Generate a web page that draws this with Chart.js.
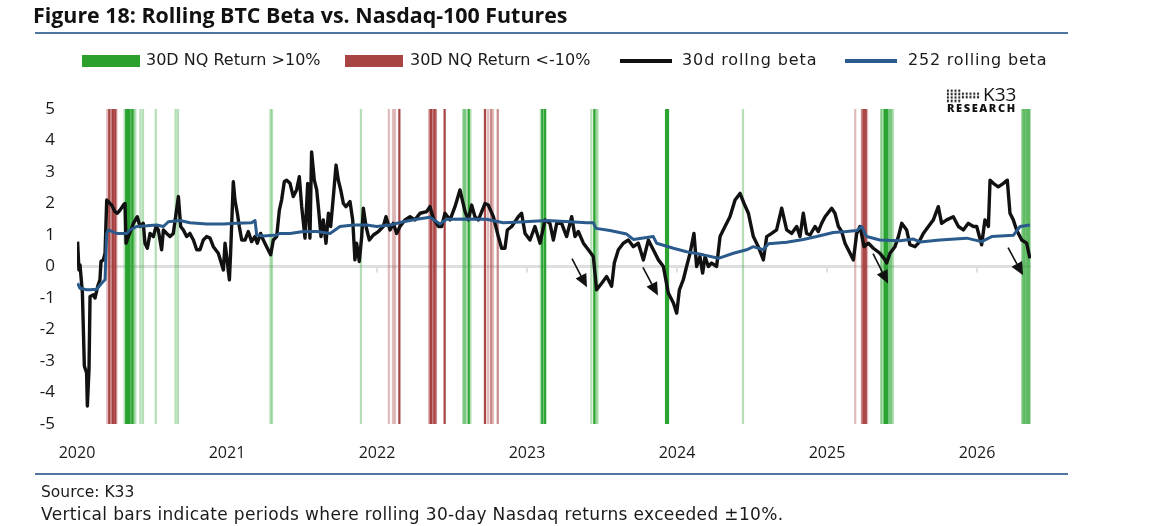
<!DOCTYPE html>
<html>
<head>
<meta charset="utf-8">
<script src="https://cdn.jsdelivr.net/npm/chart.js@4.4.1/dist/chart.umd.min.js"></script>
<style>
  html,body{margin:0;padding:0;background:#fff;}
  #wrap{position:relative;width:1162px;height:526px;overflow:hidden;font-family:"DejaVu Sans",sans-serif;color:#1a1a1a;}
  #c{position:absolute;left:0;top:0;}
  .abs{position:absolute;white-space:nowrap;}
  .title{left:33px;top:1px;font-family:"Open Sans",sans-serif;font-size:21.4px;font-weight:700;line-height:28px;color:#111;}
  .rule{position:absolute;left:35px;width:1033px;height:2px;background:#4f75a0;}
  .lt{font-size:16px;line-height:20px;top:50px;}
  .sw{position:absolute;}
  .foot{left:41px;font-size:16px;line-height:20px;}
  .k33{left:983px;top:84px;font-size:19px;line-height:20px;color:#111;font-family:"Open Sans",sans-serif;}
  .res{left:947px;top:101px;font-size:11px;font-weight:800;line-height:13px;letter-spacing:1.6px;color:#111;font-family:"Open Sans",sans-serif;}
  .dots{position:absolute;background-image:radial-gradient(circle,#222 1.1px,transparent 1.5px);background-size:3.8px 3.4px;}
</style>
</head>
<body>
<div id="wrap">
  <canvas id="c" width="1162" height="526"></canvas>
  <div class="abs title">Figure 18: Rolling BTC Beta vs. Nasdaq-100 Futures</div>
  <div class="rule" style="top:32px"></div>

  <div class="sw" style="left:82px;top:55px;width:58px;height:12px;background:#2ca02c"></div>
  <div class="abs lt" style="left:146px">30D NQ Return &gt;10%</div>
  <div class="sw" style="left:345px;top:55px;width:58px;height:12px;background:#a84442"></div>
  <div class="abs lt" style="left:410px">30D NQ Return &lt;-10%</div>
  <div class="sw" style="left:620px;top:59px;width:52px;height:3.5px;background:#111"></div>
  <div class="abs lt" style="left:682px;letter-spacing:0.9px">30d rollng beta</div>
  <div class="sw" style="left:845px;top:59px;width:52px;height:3.5px;background:#2a5b8c"></div>
  <div class="abs lt" style="left:908px;letter-spacing:0.8px">252 rolling beta</div>

  <div class="dots" style="left:946px;top:89px;width:15px;height:14px"></div>
  <div class="dots" style="left:961px;top:92px;width:19px;height:7px"></div>
  <div class="abs k33">K33</div>
  <div class="abs res">RESEARCH</div>

  <div class="rule" style="top:473px"></div>
  <div class="abs foot" style="top:482px;font-size:15.5px">Source: K33</div>
  <div class="abs foot" style="top:504px;font-size:17px;letter-spacing:0.35px">Vertical bars indicate periods where rolling 30-day Nasdaq returns exceeded ±10%.</div>
</div>
<script>
// ---- Data (x = decimal year) ----
const yearTicks = [2020, 2021, 2022, 2023, 2024, 2025, 2026];
const yTicks = [-5, -4, -3, -2, -1, 0, 1, 2, 3, 4, 5];

const beta30 = [
[2020.004,0.79],[2020.013,-0.11],[2020.020,0.05],[2020.036,-0.84],[2020.049,-3.16],[2020.064,-3.38],[2020.069,-4.43],[2020.080,-3.27],[2020.087,-0.95],[2020.109,-0.90],
[2020.120,-1.00],[2020.138,-0.63],[2020.153,-0.42],[2020.160,0.16],[2020.176,0.21],[2020.187,0.42],[2020.198,2.11],[2020.220,2.00],[2020.231,1.95],[2020.253,1.74],
[2020.269,1.69],[2020.287,1.79],[2020.309,1.95],[2020.320,2.00],[2020.327,0.74],[2020.342,0.95],[2020.360,1.16],[2020.376,1.37],[2020.402,1.58],[2020.420,1.27],
[2020.442,1.37],[2020.453,0.74],[2020.469,0.58],[2020.487,1.05],[2020.509,0.95],[2020.527,1.27],[2020.542,1.16],[2020.564,0.53],[2020.576,1.16],[2020.598,1.05],
[2020.620,0.95],[2020.642,1.05],[2020.676,2.22],[2020.691,1.27],[2020.709,1.16],[2020.731,0.95],[2020.753,1.05],[2020.776,0.84],[2020.798,0.53],[2020.820,0.53],
[2020.842,0.84],[2020.864,0.95],[2020.887,0.90],[2020.909,0.63],[2020.942,0.42],[2020.976,-0.11],[2020.987,0.74],[2020.998,0.32],[2021.016,-0.42],[2021.024,0.42],
[2021.042,2.69],[2021.053,2.11],[2021.069,1.69],[2021.082,1.27],[2021.098,0.84],[2021.120,0.84],[2021.142,1.11],[2021.164,0.79],[2021.187,0.95],[2021.202,0.74],
[2021.224,1.05],[2021.242,0.84],[2021.264,0.63],[2021.291,0.37],[2021.309,0.84],[2021.331,0.95],[2021.349,1.79],[2021.364,2.11],[2021.382,2.69],[2021.398,2.74],
[2021.420,2.64],[2021.442,2.22],[2021.464,2.43],[2021.482,2.85],[2021.498,1.90],[2021.520,0.90],[2021.538,2.64],[2021.553,0.90],[2021.564,3.64],[2021.582,2.74],
[2021.598,2.43],[2021.613,1.69],[2021.627,0.95],[2021.642,1.48],[2021.660,0.74],[2021.676,1.69],[2021.691,1.27],[2021.709,2.22],[2021.727,3.22],[2021.742,2.74],
[2021.758,2.43],[2021.776,2.00],[2021.793,1.90],[2021.820,2.06],[2021.838,1.48],[2021.853,0.21],[2021.864,0.74],[2021.882,0.16],[2021.898,0.95],[2021.909,1.85],
[2021.927,1.27],[2021.949,0.84],[2021.976,1.00],[2022.009,1.11],[2022.042,1.27],[2022.060,1.58],[2022.087,1.16],[2022.109,1.37],[2022.131,1.05],[2022.153,1.27],
[2022.187,1.48],[2022.220,1.58],[2022.253,1.48],[2022.287,1.69],[2022.331,1.74],[2022.353,1.90],[2022.376,1.53],[2022.409,1.27],[2022.431,1.27],[2022.453,1.69],
[2022.487,1.48],[2022.520,1.90],[2022.553,2.43],[2022.587,1.74],[2022.609,1.48],[2022.631,1.95],[2022.653,1.58],[2022.676,1.48],[2022.720,2.00],[2022.742,1.95],
[2022.776,1.58],[2022.809,0.95],[2022.831,0.58],[2022.853,0.58],[2022.869,1.16],[2022.898,1.27],[2022.942,1.58],[2022.964,1.69],[2022.987,1.05],[2023.020,0.84],
[2023.053,1.27],[2023.087,0.74],[2023.120,1.48],[2023.153,1.37],[2023.176,0.84],[2023.198,1.37],[2023.231,1.37],[2023.264,0.95],[2023.298,1.58],[2023.320,0.95],
[2023.342,1.11],[2023.376,0.74],[2023.409,0.53],[2023.442,0.32],[2023.464,-0.74],[2023.498,-0.53],[2023.531,-0.32],[2023.564,-0.63],[2023.582,0.11],[2023.609,0.53],
[2023.642,0.74],[2023.676,0.84],[2023.709,0.63],[2023.742,0.74],[2023.776,0.21],[2023.809,0.84],[2023.842,0.53],[2023.876,0.21],[2023.909,0.00],[2023.942,-0.84],
[2023.976,-1.16],[2023.998,-1.48],[2024.016,-0.74],[2024.042,-0.42],[2024.064,0.00],[2024.087,0.42],[2024.113,1.05],[2024.131,0.00],[2024.153,0.32],[2024.171,-0.21],
[2024.187,0.32],[2024.209,0.00],[2024.231,0.11],[2024.264,0.00],[2024.287,0.95],[2024.320,1.27],[2024.353,1.58],[2024.387,2.11],[2024.420,2.32],[2024.447,2.00],
[2024.476,1.69],[2024.509,0.95],[2024.542,0.63],[2024.576,0.21],[2024.598,0.95],[2024.631,1.05],[2024.664,1.16],[2024.698,1.85],[2024.731,1.16],[2024.764,1.05],
[2024.798,1.27],[2024.820,0.95],[2024.842,1.69],[2024.864,1.05],[2024.887,1.00],[2024.920,1.27],[2024.942,1.11],[2024.964,1.37],[2024.987,1.58],[2025.031,1.85],
[2025.053,1.69],[2025.076,1.27],[2025.098,1.11],[2025.120,0.74],[2025.176,0.21],[2025.198,1.05],[2025.220,1.27],[2025.247,0.63],[2025.276,0.74],[2025.309,0.58],
[2025.353,0.42],[2025.387,0.21],[2025.398,0.11],[2025.420,0.42],[2025.453,0.63],[2025.476,0.95],[2025.498,1.37],[2025.531,1.16],[2025.553,0.69],[2025.587,0.63],
[2025.609,0.74],[2025.642,1.05],[2025.676,1.27],[2025.709,1.48],[2025.742,1.90],[2025.764,1.37],[2025.798,1.48],[2025.842,1.58],[2025.876,1.27],[2025.909,1.16],
[2025.942,1.37],[2025.976,1.27],[2025.998,1.27],[2026.031,0.69],[2026.053,1.48],[2026.076,1.27],[2026.087,2.74],[2026.109,2.64],[2026.142,2.53],[2026.176,2.64],
[2026.202,2.74],[2026.220,1.69],[2026.242,1.48],[2026.264,1.16],[2026.298,0.84],[2026.331,0.74],[2026.353,0.26]
];

const beta252 = [
[2020.004,-0.53],[2020.020,-0.69],[2020.064,-0.74],[2020.087,-0.74],[2020.131,-0.72],[2020.164,-0.53],[2020.187,-0.42],[2020.198,1.05],[2020.209,1.16],[2020.264,1.05],
[2020.331,1.05],[2020.353,1.16],[2020.398,1.27],[2020.464,1.29],[2020.531,1.32],[2020.576,1.27],[2020.609,1.42],[2020.687,1.46],[2020.753,1.39],[2020.864,1.35],
[2020.976,1.35],[2021.064,1.37],[2021.164,1.39],[2021.187,1.46],[2021.198,1.00],[2021.242,0.97],[2021.331,1.00],[2021.353,1.05],[2021.420,1.05],[2021.509,1.11],
[2021.598,1.11],[2021.687,1.05],[2021.753,1.27],[2021.842,1.32],[2021.931,1.32],[2021.998,1.27],[2022.087,1.32],[2022.176,1.42],[2022.264,1.50],[2022.353,1.56],
[2022.398,1.42],[2022.420,1.35],[2022.464,1.50],[2022.620,1.51],[2022.731,1.50],[2022.842,1.39],[2022.953,1.41],[2023.131,1.46],[2023.287,1.42],[2023.398,1.39],
[2023.442,1.39],[2023.460,1.21],[2023.553,1.14],[2023.664,1.03],[2023.709,0.86],[2023.842,0.95],[2023.864,0.74],[2023.976,0.58],[2024.064,0.47],[2024.176,0.37],
[2024.276,0.26],[2024.376,0.42],[2024.464,0.53],[2024.509,0.63],[2024.576,0.53],[2024.609,0.72],[2024.731,0.77],[2024.842,0.86],[2024.931,0.95],[2025.042,1.08],
[2025.131,1.11],[2025.198,1.14],[2025.231,1.27],[2025.264,0.95],[2025.353,0.84],[2025.487,0.82],[2025.576,0.87],[2025.620,0.78],[2025.753,0.84],[2025.931,0.90],
[2026.031,0.79],[2026.098,0.95],[2026.242,0.99],[2026.287,1.27],[2026.353,1.32]
];

// Vertical bars (dates as decimal years where 30D NQ return exceeded +/-10%)
const greenStrong = [2020.328,2020.339,2020.349,2020.370,2022.611,2023.102,2023.121,2023.449,2023.927,2023.940,2025.387,2025.400];
const greenMid = [2020.360,2022.577,2022.590,2025.363,2025.380,2025.413,2025.427,2026.303,2026.313,2026.323,2026.333,2026.343,2026.350];
const greenLight = [2020.317,2020.379,2020.389,2020.423,2020.440,2020.525,2020.657,2020.673,2021.290,2021.300,2021.893,2022.623,2023.092,2023.111,2023.429,2023.460,2023.470,2024.440,2025.440];
const redStrong = [2020.215,2020.240,2020.255,2022.149,2022.360,2022.383,2022.451,2022.720,2025.245,2025.258];
const redMid = [2020.230,2022.350,2022.371,2022.393,2022.760,2022.805,2025.233];
const redLight = [2020.202,2020.263,2022.079,2022.107,2022.120,2022.740,2022.773,2025.188,2025.267];

// Arrow annotations [fromX, fromY, toX, toY]
const arrows = [
  [2023.30, 0.25, 2023.40, -0.66],
  [2023.773, -0.03, 2023.873, -0.92],
  [2025.307, 0.41, 2025.407, -0.54],
  [2026.207, 0.60, 2026.307, -0.28]
];

// ---- Build chart ----
const toPts = a => a.map(p => ({x: p[0], y: p[1]}));
const toBars = a => a.map(x => ({x: x, y: [-5, 5]}));
const barDs = (arr, color, th) => ({
  type: 'bar', data: toBars(arr), backgroundColor: color, borderWidth: 0,
  barThickness: th, grouped: false, order: 10
});

const zeroPlugin = {
  id: 'zeroLine',
  beforeDatasetsDraw(chart) {
    const {ctx, chartArea, scales} = chart;
    const y0 = scales.y.getPixelForValue(0);
    ctx.save();
    ctx.strokeStyle = '#dedfe0';
    ctx.lineWidth = 3;
    ctx.beginPath();
    ctx.moveTo(chartArea.left, y0);
    ctx.lineTo(chartArea.right, y0);
    ctx.stroke();
    ctx.lineWidth = 2;
    yearTicks.slice(1).forEach(v => {
      const x = scales.x.getPixelForValue(v);
      ctx.beginPath();
      ctx.moveTo(x, y0);
      ctx.lineTo(x, y0 + 6);
      ctx.stroke();
    });
    ctx.restore();
  }
};

const arrowPlugin = {
  id: 'arrows',
  afterDatasetsDraw(chart) {
    const {ctx, scales} = chart;
    ctx.save();
    ctx.strokeStyle = '#111';
    ctx.fillStyle = '#111';
    ctx.lineWidth = 1.6;
    arrows.forEach(a => {
      const x1 = scales.x.getPixelForValue(a[0]), y1 = scales.y.getPixelForValue(a[1]);
      const x2 = scales.x.getPixelForValue(a[2]), y2 = scales.y.getPixelForValue(a[3]);
      const ang = Math.atan2(y2 - y1, x2 - x1);
      const L = 13, W = 6;
      const bx = x2 - L * Math.cos(ang), by = y2 - L * Math.sin(ang);
      ctx.beginPath();
      ctx.moveTo(x1, y1);
      ctx.lineTo(bx, by);
      ctx.stroke();
      ctx.beginPath();
      ctx.moveTo(x2, y2);
      ctx.lineTo(bx + W * Math.sin(ang), by - W * Math.cos(ang));
      ctx.lineTo(bx - W * Math.sin(ang), by + W * Math.cos(ang));
      ctx.closePath();
      ctx.fill();
    });
    ctx.restore();
  }
};

new Chart(document.getElementById('c'), {
  type: 'line',
  data: {
    datasets: [
      {label: '252 rolling beta', data: toPts(beta252), borderColor: '#2a5b8c', borderWidth: 3, pointRadius: 0, tension: 0, order: 0, borderJoinStyle: 'round'},
      {label: '30d rollng beta', data: toPts(beta30), borderColor: '#111111', borderWidth: 3.4, pointRadius: 0, tension: 0, order: 1, borderJoinStyle: 'round'},
      barDs(greenStrong, 'rgba(34,160,40,0.95)', 1.6),
      barDs(greenMid, 'rgba(44,165,50,0.6)', 1.6),
      barDs(greenLight, 'rgba(44,165,50,0.35)', 1.6),
      barDs(redStrong, 'rgba(160,50,50,0.9)', 1.6),
      barDs(redMid, 'rgba(168,64,63,0.6)', 1.6),
      barDs(redLight, 'rgba(168,64,63,0.35)', 1.6)
    ]
  },
  options: {
    responsive: false,
    animation: false,
    devicePixelRatio: 1,
    layout: {padding: {top: 109, right: 131, bottom: 0, left: 0}},
    plugins: {legend: {display: false}, title: {display: false}, tooltip: {enabled: false}},
    scales: {
      x: {
        type: 'linear', min: 2020, max: 2026.36, offset: false,
        grid: {display: false, drawTicks: false}, border: {display: false},
        afterBuildTicks: s => { s.ticks = yearTicks.map(v => ({value: v})); },
        afterFit: s => { s.height = 102; },
        ticks: {padding: 20, color: '#1a1a1a', font: {family: 'Open Sans', size: 16}, autoSkip: false, maxRotation: 0, callback: v => String(v)}
      },
      y: {
        min: -5, max: 5,
        grid: {display: false, drawTicks: false}, border: {display: false},
        afterBuildTicks: s => { s.ticks = yTicks.map(v => ({value: v})); },
        afterFit: s => { s.width = 77; },
        ticks: {padding: 22, color: '#1a1a1a', font: {family: 'Open Sans', size: 17}, callback: v => String(v)}
      }
    }
  },
  plugins: [zeroPlugin, arrowPlugin]
});
</script>
</body>
</html>
